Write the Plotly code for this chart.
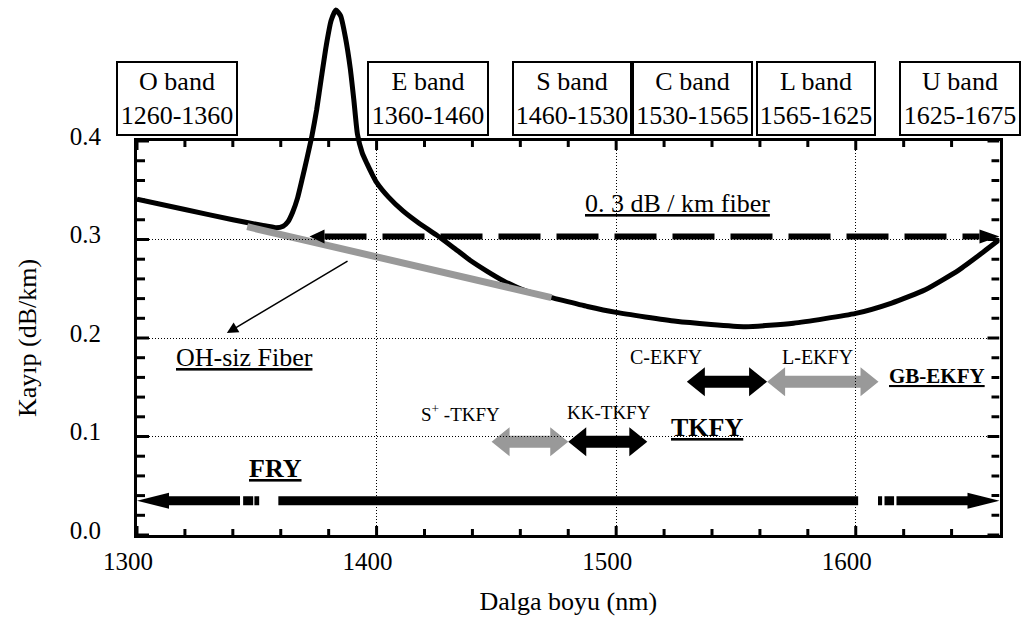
import plotly.graph_objects as go

# ---------------------------------------------------------------- data
# Attenuation of standard single-mode fibre (water peak near 1383 nm)
wavelength = [1300, 1320, 1340, 1352, 1358, 1361, 1363, 1365, 1367, 1369, 1371,
              1373, 1375, 1377, 1379, 1381, 1383, 1385, 1387, 1389, 1390.5, 1392,
              1394, 1396, 1398, 1400, 1405, 1411, 1418, 1425, 1432, 1439, 1446,
              1453, 1460, 1466, 1473, 1488, 1500, 1525, 1554, 1574, 1600, 1615,
              1629, 1643, 1652, 1660]
loss = [0.341, 0.3305, 0.320, 0.3145, 0.312, 0.3135, 0.318, 0.328, 0.342, 0.362,
        0.383, 0.405, 0.432, 0.465, 0.497, 0.522, 0.533, 0.527, 0.505, 0.474,
        0.442, 0.407, 0.388, 0.377, 0.367, 0.358, 0.343, 0.329, 0.316, 0.3046,
        0.292, 0.279, 0.268, 0.258, 0.250, 0.245, 0.241, 0.232, 0.226, 0.217,
        0.2115, 0.215, 0.225, 0.2355, 0.249, 0.269, 0.285, 0.300]

# OH-free fibre (water peak removed)
oh_free_wl = [1346, 1473]
oh_free_loss = [0.313, 0.241]

# 0.3 dB/km reference fibre span
ref_wl = [1372, 1660]
ref_loss = 0.303

# Amplifier operating windows
amp_names = ["S<sup>+</sup> -TKFY", "KK-TKFY", "C-EKFY", "L-EKFY"]
amp_start = [1448, 1480, 1529.5, 1563]
amp_end = [1480, 1513, 1563, 1609.5]
amp_level = [0.0947, 0.0947, 0.1557, 0.1557]
amp_gray = [True, False, False, True]

# Raman amplifier span (broken line pieces)
fry_pieces = [(1300, 1343), (1344.3, 1348.5), (1349, 1351), (1359, 1601),
              (1609.3, 1611), (1612, 1616), (1617, 1660)]
fry_level = 0.0348

# Telecom bands
band_names = ["O band", "E band", "S band", "C band", "L band", "U band"]
band_ranges = ["1260-1360", "1360-1460", "1460-1530", "1530-1565",
               "1565-1625", "1625-1675"]

# axis tick positions
x_major = [1300, 1400, 1500, 1600]
x_minor = [v for v in range(1320, 1660, 20) if v % 100]
y_major = [0.0, 0.1, 0.2, 0.3, 0.4]
y_minor = [round(0.02 * k, 2) for k in range(1, 20) if k % 5]

# ---------------------------------------------------------------- layout geometry
W, H = 1033, 623
X_RANGE = [1300, 1660]
Y_RANGE = [0.0, 0.4]
xd = [137 / W, 999.5 / W]
yd = [1 - 535 / H, 1 - 141 / H]
# data are drawn on tall hidden axes (x, y) so the water peak can rise above
# the frame; the visible frame with grid and labels lives on (x2, y2)
y_tall_top = Y_RANGE[1] * (1 - yd[0]) / (yd[1] - yd[0])

px_per_nm = (xd[1] - xd[0]) * W / (X_RANGE[1] - X_RANGE[0])
px_per_unit = (yd[1] - yd[0]) * H / (Y_RANGE[1] - Y_RANGE[0])


def dx(px):
    return px / px_per_nm


def dy(px):
    return px / px_per_unit


FONT = "Liberation Serif, Times New Roman, serif"
GRAY = "#999999"
BLACK = "#000000"


def arrow_polygon(xa, xb, y, body, head_h, head_l, left=True, right=True):
    """Closed outline of a thick bar with optional arrow heads (sizes in px)."""
    b, hh, hl = dy(body / 2), dy(head_h / 2), dx(head_l)
    xs, ys = [], []
    if left:
        xs += [xa, xa + hl, xa + hl]
        ys += [y, y + hh, y + b]
    else:
        xs += [xa, xa]
        ys += [y - b, y + b]
    if right:
        xs += [xb - hl, xb - hl, xb, xb - hl, xb - hl]
        ys += [y + b, y + hh, y, y - hh, y - b]
    else:
        xs += [xb, xb]
        ys += [y + b, y - b]
    if left:
        xs += [xa + hl, xa + hl, xa]
        ys += [y - b, y - hh, y]
    else:
        xs += [xa]
        ys += [y - b]
    return xs, ys


def joined(polys):
    xs, ys = [], []
    for px_, py_ in polys:
        xs += px_ + [None]
        ys += py_ + [None]
    return xs, ys


fig = go.Figure()

# attenuation curve
fig.add_trace(go.Scatter(x=wavelength, y=loss, mode="lines",
                         line=dict(color=BLACK, width=5, shape="spline", smoothing=0.5),
                         hoverinfo="skip"))
# OH-free fibre
fig.add_trace(go.Scatter(x=oh_free_wl, y=oh_free_loss, mode="lines",
                         line=dict(color=GRAY, width=7), hoverinfo="skip"))

# 0.3 dB/km reference: dashed shaft with heads at both ends
fig.add_trace(go.Scatter(x=[ref_wl[0] + dx(15), ref_wl[1] - dx(20)],
                         y=[ref_loss, ref_loss], mode="lines",
                         line=dict(color=BLACK, width=6, dash="42px,16px"),
                         hoverinfo="skip"))
hx, hy = joined([
    ([ref_wl[0], ref_wl[0] + dx(15), ref_wl[0] + dx(15)],
     [ref_loss, ref_loss + dy(7), ref_loss - dy(7)]),
    ([ref_wl[1], ref_wl[1] - dx(20), ref_wl[1] - dx(20)],
     [ref_loss, ref_loss + dy(7), ref_loss - dy(7)]),
])
fig.add_trace(go.Scatter(x=hx, y=hy, mode="lines", fill="toself",
                         fillcolor=BLACK, line=dict(width=0, color=BLACK),
                         hoverinfo="skip"))

# amplifier windows
for gray in (True, False):
    polys = [arrow_polygon(s, e, lv, 12, 29, 18)
             for s, e, lv, g in zip(amp_start, amp_end, amp_level, amp_gray) if g == gray]
    ax_, ay_ = joined(polys)
    col = GRAY if gray else BLACK
    fig.add_trace(go.Scatter(x=ax_, y=ay_, mode="lines", fill="toself",
                             fillcolor=col, line=dict(width=0, color=col),
                             hoverinfo="skip"))

# Raman span
polys = []
for i, (s, e) in enumerate(fry_pieces):
    polys.append(arrow_polygon(s, e, fry_level, 9, 16, 32,
                               left=(i == 0), right=(i == len(fry_pieces) - 1)))
fx, fy = joined(polys)
fig.add_trace(go.Scatter(x=fx, y=fy, mode="lines", fill="toself",
                         fillcolor=BLACK, line=dict(width=0, color=BLACK),
                         hoverinfo="skip"))

# empty trace that makes the framed subplot exist
fig.add_trace(go.Scatter(x=[None], y=[None], xaxis="x2", yaxis="y2",
                         mode="lines", hoverinfo="skip"))

# ---------------------------------------------------------------- inward tick marks on all four sides
shapes = []


def xtick(v, length, width):
    for anchor, sign in ((Y_RANGE[0], 1), (Y_RANGE[1], -1)):
        shapes.append(dict(type="line", xref="x2", yref="y2", x0=v, x1=v,
                           ysizemode="pixel", yanchor=anchor, y0=0, y1=sign * length,
                           line=dict(color=BLACK, width=width), layer="above"))


def ytick(v, length, width):
    for anchor, sign in ((X_RANGE[0], 1), (X_RANGE[1], -1)):
        shapes.append(dict(type="line", xref="x2", yref="y2", y0=v, y1=v,
                           xsizemode="pixel", xanchor=anchor, x0=0, x1=sign * length,
                           line=dict(color=BLACK, width=width), layer="above"))


for v in x_major:
    xtick(v, 9, 3)
for v in x_minor:
    xtick(v, 6, 3)
for v in y_major:
    ytick(v, 12, 3)
for v in y_minor:
    ytick(v, 8, 3)

# ---------------------------------------------------------------- annotations
ann = []


def label(text, x, y, size, bold=False, underline=False):
    t = text
    if bold:
        t = "<b>" + t + "</b>"
    if underline:
        t = "<u>" + t + "</u>"
    ann.append(dict(text=t, x=x, y=y, xref="x2", yref="y2", showarrow=False,
                    xanchor="center", yanchor="middle",
                    font=dict(family=FONT, size=size, color=BLACK)))


label("0. 3 dB / km fiber", 1525.5, 0.337, 26, underline=True)
label("OH-siz Fiber", 1345, 0.180, 26, underline=True)
label("FRY", 1358, 0.068, 26, bold=True, underline=True)
label("TKFY", 1538, 0.109, 26, bold=True, underline=True)
label("GB-EKFY", 1634, 0.161, 21, bold=True, underline=True)

amp_label_pos = [(1435, 0.124), (1497, 0.124), (1521, 0.181), (1584, 0.181)]
amp_label_size = [19, 19, 20, 20]
for name, (lx, ly), sz in zip(amp_names, amp_label_pos, amp_label_size):
    label(name, lx, ly, sz)

# pointer to the OH-free fibre line
ann.append(dict(x=1337.5, y=0.205, ax=1388.5, ay=0.279, xref="x2", yref="y2",
                axref="x2", ayref="y2", showarrow=True, arrowhead=2,
                arrowsize=1.5, arrowwidth=1.5, arrowcolor=BLACK, text=""))

# band boxes above the frame (pixel boxes: left, right)
band_boxes = [(117, 237), (368, 488), (513, 631), (633, 752), (757, 875), (900, 1020)]
box_top, box_bot = 62, 135
for name, rng, (l, r) in zip(band_names, band_ranges, band_boxes):
    ann.append(dict(text=name + "<br>" + rng, xref="paper", yref="paper",
                    x=(l + r) / 2 / W, y=1 - (box_top + box_bot) / 2 / H,
                    xanchor="center", yanchor="middle", showarrow=False,
                    width=r - l - 2, height=box_bot - box_top - 2,
                    borderpad=0, bordercolor=BLACK, borderwidth=2,
                    bgcolor="white", align="center",
                    font=dict(family=FONT, size=26, color=BLACK)))

axis_common = dict(showline=True, linecolor=BLACK, linewidth=3, mirror=True,
                   ticks="", tickmode="array",
                   showgrid=True, gridcolor=BLACK, gridwidth=1,
                   griddash="1px,2px", zeroline=False, automargin=False,
                   tickfont=dict(family=FONT, size=25, color=BLACK))

fig.update_layout(
    width=W, height=H,
    margin=dict(l=0, r=0, t=0, b=0),
    paper_bgcolor="white", plot_bgcolor="rgba(0,0,0,0)",
    showlegend=False,
    xaxis=dict(domain=xd, range=X_RANGE, visible=False, anchor="y",
               showgrid=False, zeroline=False),
    yaxis=dict(domain=[yd[0], 1.0], range=[0, y_tall_top], visible=False,
               anchor="x", showgrid=False, zeroline=False),
    xaxis2=dict(domain=xd, range=X_RANGE, tickvals=x_major,
                ticktext=[str(v) for v in x_major],
                ticklabelshift=-9, ticklabelstandoff=2,
                title=dict(text="Dalga boyu (nm)", standoff=18,
                           font=dict(family=FONT, size=26, color=BLACK)),
                anchor="y2", **axis_common),
    yaxis2=dict(domain=yd, range=Y_RANGE, tickvals=y_major,
                ticktext=[f"{v:.1f}" for v in y_major],
                ticklabelstandoff=28, ticklabelshift=-5,
                title=dict(text="Kayıp (dB/km)", standoff=26,
                           font=dict(family=FONT, size=26, color=BLACK)),
                anchor="x2", **axis_common),
    shapes=shapes,
    annotations=ann,
)

fig.write_html("out.html")
